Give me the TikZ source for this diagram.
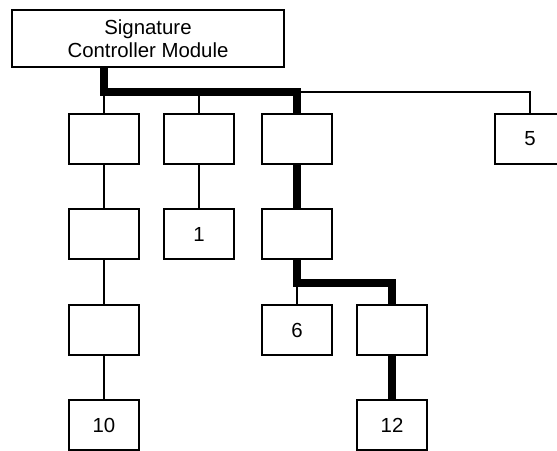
\documentclass[tikz,border=0pt]{standalone}
\usepackage{fontspec}
\setmainfont{Liberation Sans}

\begin{document}
\begin{tikzpicture}[
    x=0.03cm, y=-0.03cm,
    box/.style={rectangle, draw, line width=1.7pt, inner sep=0pt,
                align=center, font=\fontsize{17.4}{19.6}\selectfont,
                minimum width=2.1cm, minimum height=1.5cm},
    thinlink/.style={line width=1pt},
    thicklink/.style={line width=6.2pt, line join=miter}
]
\useasboundingbox (0,0) rectangle (557,451);
\clip (0,0) rectangle (557,451);

% Nodos
\node[box, minimum width=8.16cm, minimum height=1.71cm] (scm) at (148,38.5)
    {Signature\\Controller Module};

\node[box] (a1) at (104,139) {};
\node[box] (b1) at (199,139) {};
\node[box] (c1) at (297,139) {};
\node[box] (e1) at (530,139) {5};

\node[box] (a2) at (104,234) {};
\node[box] (b2) at (199,234) {1};
\node[box] (c2) at (297,234) {};

\node[box] (a3) at (104,330) {};
\node[box] (c3) at (297,330) {6};
\node[box] (d3) at (392,330) {};

\node[box] (a4) at (104,425) {10};
\node[box] (d4) at (392,425) {12};

\coordinate (busline) at (0,92);
\coordinate (fork) at (0,283);

% Conexiones
\draw[thinlink] (a1.north |- busline) -- (a1.north);
\draw[thinlink] (b1.north |- busline) -- (b1.north);
\draw[thinlink] (c1.north |- busline) -| (e1.north);
\draw[thicklink] (scm.south -| a1.north) |- (c1.north |- busline) -- (c1.north);

\draw[thinlink] (a1) -- (a2);
\draw[thinlink] (a2) -- (a3);
\draw[thinlink] (a3) -- (a4);
\draw[thinlink] (b1) -- (b2);
\draw[thicklink] (c1) -- (c2);

\draw[thinlink] (c2.south |- fork) -- (c3.north);
\draw[thicklink] (c2.south) |- (d3.north |- fork) -- (d3.north);
\draw[thicklink] (d3) -- (d4);

\end{tikzpicture}
\end{document}
